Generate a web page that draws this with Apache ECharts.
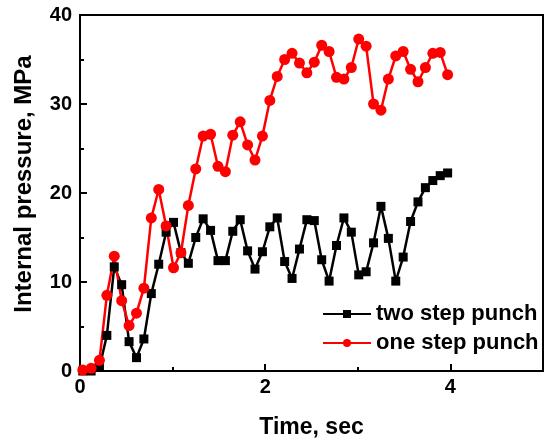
<!DOCTYPE html>
<html>
<head>
<meta charset="utf-8">
<script src="https://cdn.jsdelivr.net/npm/echarts@6/dist/echarts.min.js"></script>
<style>html,body{margin:0;padding:0;background:#fff}#c{width:549px;height:444px}</style>
</head>
<body>
<div id="c"></div>
<script>
const time = [0.03,0.12,0.21,0.29,0.37,0.45,0.53,0.61,0.69,0.77,
              0.85,0.93,1.01,1.09,1.17,1.25,1.33,1.41,1.49,1.57,
              1.65,1.73,1.81,1.89,1.97,2.05,2.13,2.21,2.29,2.37,
              2.45,2.53,2.61,2.69,2.77,2.85,2.93,3.01,3.09,3.17,
              3.25,3.33,3.41,3.49,3.57,3.65,3.73,3.81,3.89,3.97];
const twoStep = [0,0,0.4,4.0,11.7,9.7,3.3,1.5,3.6,8.7,
                 12.0,15.6,16.7,13.3,12.1,15.0,17.1,15.8,12.4,12.4,
                 15.7,17.0,13.5,11.45,13.4,16.2,17.2,12.3,10.4,13.7,
                 17.0,16.9,12.5,10.1,14.1,17.2,15.6,10.8,11.15,14.4,
                 18.5,14.9,10.1,12.8,16.8,19.0,20.6,21.4,21.95,22.25];
const oneStep = [0.1,0.3,1.2,8.5,12.9,7.9,5.1,6.5,9.3,17.2,
                 20.4,16.3,11.6,13.3,18.6,22.7,26.4,26.6,23.0,22.4,
                 26.5,28.0,25.4,23.7,26.4,30.4,33.1,35.0,35.7,34.6,
                 33.5,34.7,36.6,35.9,33.0,32.8,34.1,37.3,36.5,30.0,
                 29.3,32.8,35.4,35.9,33.9,32.5,34.1,35.7,35.8,33.3];
const seriesNames = ['two step punch','one step punch'];
const xTicks = [0,2,4];
const yTicks = [0,10,20,30,40];

const chart = echarts.init(document.getElementById('c'), null, {renderer:'canvas'});
const font = 'Liberation Sans, Arial, sans-serif';
const lbl = {color:'#000', fontFamily:font, fontWeight:'bold', fontSize:20};
chart.setOption({
  animation:false,
  backgroundColor:'#fff',
  grid:{left:80, right:6, top:15, bottom:72, show:true, borderColor:'#000', borderWidth:2, backgroundColor:'transparent'},
  xAxis:[{
    type:'value', min:0, max:5, interval:2,
    name:'Time, sec', nameLocation:'middle', nameGap:45,
    nameTextStyle:{color:'#000', fontFamily:font, fontWeight:'bold', fontSize:23},
    axisLine:{show:true, lineStyle:{color:'#000', width:2}},
    axisTick:{show:true, inside:true, length:7, lineStyle:{color:'#000', width:2}},
    axisLabel:Object.assign({margin:6, showMaxLabel:false, formatter:v=>xTicks.includes(v)?String(v):''}, lbl),
    splitLine:{show:false}
  },{
    type:'value', min:0, max:5, interval:1, position:'bottom',
    axisLine:{show:false},
    axisTick:{show:true, inside:true, length:4, lineStyle:{color:'#000', width:2}},
    axisLabel:{show:false}, splitLine:{show:false}
  }],
  yAxis:{
    type:'value', min:0, max:40, interval:10,
    name:'Internal pressure, MPa', nameLocation:'middle', nameGap:44,
    nameTextStyle:{color:'#000', fontFamily:font, fontWeight:'bold', fontSize:24, padding:[0,0,0,18]},
    axisLine:{show:true, lineStyle:{color:'#000', width:2}},
    axisTick:{show:true, inside:true, length:7, lineStyle:{color:'#000', width:2}},
    minorTick:{show:true, splitNumber:2, length:4, lineStyle:{color:'#000', width:2}},
    axisLabel:Object.assign({margin:8, formatter:v=>yTicks.includes(v)?String(v):''}, lbl),
    splitLine:{show:false}
  },
  legend:{
    orient:'vertical', left:322, top:303, itemWidth:48, itemHeight:10, itemGap:7, padding:0,
    textStyle:{color:'#000', fontFamily:font, fontWeight:'bold', fontSize:22},
    data:seriesNames
  },
  series:[{
    name:seriesNames[0], type:'line', xAxisIndex:0,
    data:time.map((t,i)=>[t,twoStep[i]]),
    symbol:'rect', symbolSize:9, showAllSymbol:true,
    itemStyle:{color:'#000'}, lineStyle:{color:'#000', width:2.5}
  },{
    name:seriesNames[1], type:'line', xAxisIndex:0,
    data:time.map((t,i)=>[t,oneStep[i]]),
    symbol:'circle', symbolSize:11, showAllSymbol:true,
    itemStyle:{color:'#ff0000'}, lineStyle:{color:'#ff0000', width:2.5}
  }]
});
</script>
</body>
</html>
